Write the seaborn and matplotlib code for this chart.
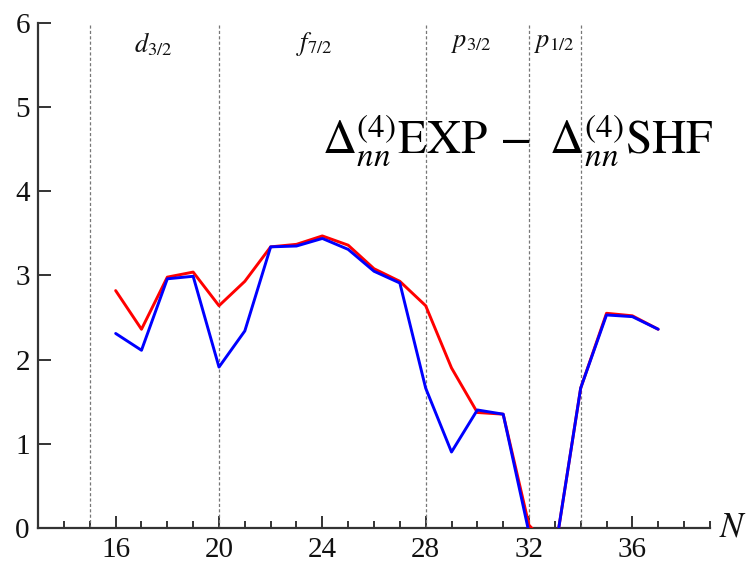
import numpy as np
import pandas as pd
import matplotlib
matplotlib.use("Agg")
import matplotlib.pyplot as plt
from matplotlib.ticker import MultipleLocator
import seaborn as sns

# Neutron number and the two Delta^(4) difference curves
N = list(range(16, 38))
exp_minus_shf_red = [2.82, 2.36, 2.98, 3.04, 2.64, 2.93, 3.34, 3.37, 3.47, 3.36, 3.08,
                     2.93, 2.64, 1.90, 1.37, 1.35, 0.03, -0.30, 1.66, 2.55, 2.52, 2.36]
exp_minus_shf_blue = [2.31, 2.11, 2.96, 2.99, 1.91, 2.34, 3.34, 3.35, 3.44, 3.31, 3.05,
                      2.91, 1.66, 0.90, 1.40, 1.35, -0.06, -0.30, 1.66, 2.53, 2.51, 2.36]

# Shell boundaries and orbital labels
shell_edges = [15, 20, 28, 32, 34]
shell_labels = [r"$d_{3/2}$", r"$f_{7/2}$", r"$p_{3/2}$", r"$p_{1/2}$"]
shell_label_x = [17.45, 23.7, 29.75, 32.98]

sns.set_style("ticks")
plt.rcParams["font.family"] = ["Liberation Serif", "DejaVu Serif"]
plt.rcParams["mathtext.fontset"] = "stix"

df = pd.DataFrame({
    "N": N * 2,
    "value": exp_minus_shf_red + exp_minus_shf_blue,
    "series": ["red"] * len(N) + ["blue"] * len(N),
})

fig = plt.figure(figsize=(7.48, 5.66), dpi=100)
ax = fig.add_axes([0.051, 0.0677, 0.898, 0.8913])

for edge in shell_edges:
    ax.axvline(edge, color="#777777", lw=0.9, ls=(0, (2.5, 1.8)), zorder=1)

sns.lineplot(data=df, x="N", y="value", hue="series",
             palette={"red": "#ff0000", "blue": "#0000ff"},
             hue_order=["red", "blue"], linewidth=2.1, legend=False, ax=ax,
             zorder=3)

ax.set_xlim(13, 39)
ax.set_ylim(0, 6)
ax.set_xlabel("")
ax.set_ylabel("")

ax.xaxis.set_minor_locator(MultipleLocator(1))
ax.set_xticks([16, 20, 24, 28, 32, 36])
ax.yaxis.set_major_locator(MultipleLocator(1))

ax.tick_params(axis="both", which="major", direction="in", length=9, width=1.4,
               color="#333333", labelsize=21, labelcolor="#111111")
ax.tick_params(axis="x", which="minor", direction="in", length=5, width=1.4,
               color="#333333")
ax.tick_params(axis="x", pad=7)
ax.tick_params(axis="y", pad=6)

sns.despine(ax=ax)
for side in ("left", "bottom"):
    ax.spines[side].set_linewidth(1.6)
    ax.spines[side].set_color("#333333")

for lbl, xpos in zip(shell_labels, shell_label_x):
    ax.text(xpos, 5.75, lbl, ha="center", va="center", fontsize=19, color="#111111")

ax.text(24.0, 4.45,
        r"$\Delta_{nn}^{(4)}\mathrm{EXP}\,-\ \Delta_{nn}^{(4)}\mathrm{SHF}$",
        ha="left", va="baseline", fontsize=34, color="black", zorder=4)

ax.text(39.9, 0.0, r"$N$", ha="center", va="center", fontsize=25,
        color="#111111", clip_on=False)

fig.savefig("out.png", dpi=100)
